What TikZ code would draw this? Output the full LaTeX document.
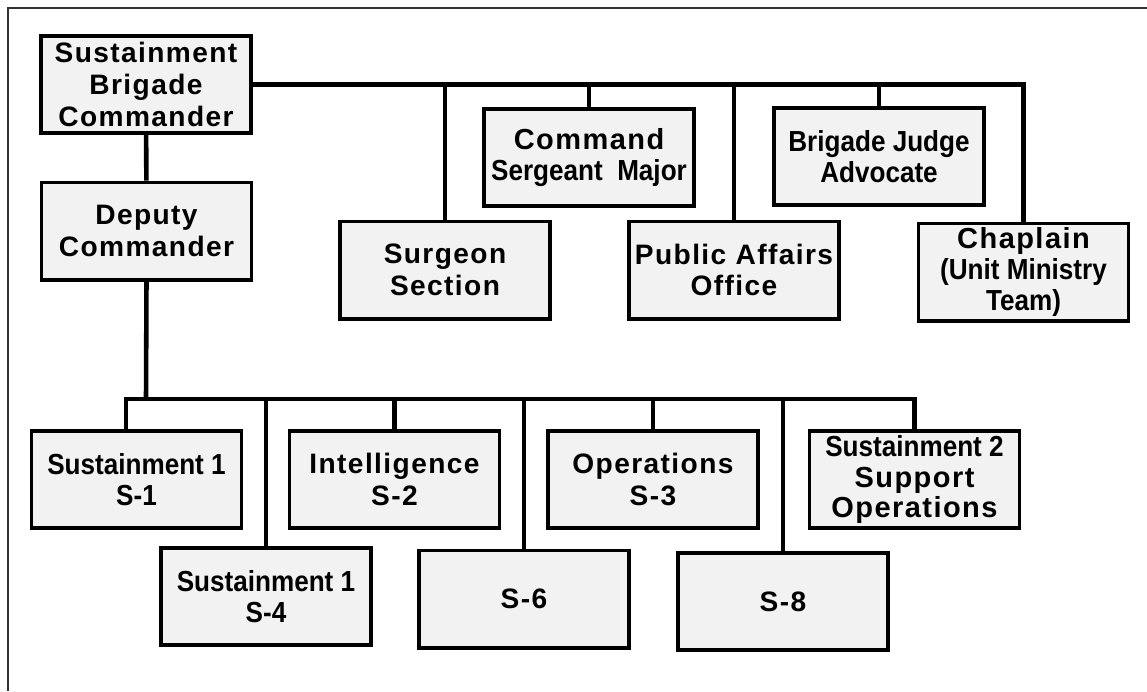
\documentclass[tikz,border=0pt]{standalone}
\usepackage{fontspec}
\setmainfont{Liberation Sans}
\newfontfamily\widefont[LetterSpace=5]{Liberation Sans}
\newfontfamily\narrowfont[FakeStretch=0.9]{Liberation Sans}
\usetikzlibrary{positioning}

\tikzset{
	unit/.style={draw, line width=2pt, fill=black!5, rectangle, minimum width=4.2cm, minimum height=1.95cm, align=center, inner sep=0pt},
	widetxt/.style={font=\widefont\bfseries\fontsize{16}{18}\selectfont},
	narrowtxt/.style={font=\narrowfont\bfseries\fontsize{16.5}{17.4}\selectfont},
	link/.style={line width=2.6pt},
	frame/.style={line width=1.1pt, draw=black!80}
}

\begin{document}
\begin{tikzpicture}[x=0.02cm, y=-0.02cm]
	\useasboundingbox (0,0) rectangle (1147,691);
	\draw[frame] (8,691) -- (8,8) -- (1147,8);

	\node (sbc) at (146,84.5) [unit, widetxt] {Sustainment\\Brigade\\Commander};
	\node (dep) at (146.5,231) [unit, widetxt] {Deputy\\Commander};
	\node (surg) at (445,270) [unit, widetxt] {Surgeon\\Section};
	\node (csm) at (589,157.5) [unit, narrowtxt] {{\widefont Command}\\Sergeant\ \ Major};
	\node (pao) at (734,270) [unit, widetxt] {Public Affairs\\Office};
	\node (bja) at (879,156.5) [unit, narrowtxt] {Brigade Judge\\Advocate};
	\node (chap) at (1023.5,272) [unit, narrowtxt] {{\widefont Chaplain}\\(Unit Ministry\\Team)};

	\draw[link] (sbc) -- (dep);
	\draw[link] (sbc.east) -| (chap.north);
	\draw[link] (surg.north) -- (surg.north |- sbc.east);
	\draw[link] (csm.north) -- (csm.north |- sbc.east);
	\draw[link] (pao.north) -- (pao.north |- sbc.east);
	\draw[link] (bja.north) -- (bja.north |- sbc.east);

	\node (s1) at (136.5,479.5) [unit, narrowtxt] {Sustainment 1\\S-1};
	\node (s2) at (394.5,479.5) [unit, widetxt] {Intelligence\\S-2};
	\node (s3) at (653,479.5) [unit, widetxt] {Operations\\S-3};
	\node (sus2) at (914.5,479.5) [unit, narrowtxt] {Sustainment 2\\{\widefont Support}\\{\widefont Operations}};
	\node (s4) at (266,596.5) [unit, narrowtxt] {Sustainment 1\\S-4};
	\node (s6) at (524,599) [unit, widetxt] {S-6};
	\node (s8) at (783,601.5) [unit, widetxt] {S-8};

	\coordinate (hub) at (146,399);
	\draw[link] (dep.south) -- (hub);
	\draw[link] ([xshift=-0.21cm]s1.north) |- (hub) -| (sus2.north);
	\draw[link] (s4.north) -- (s4.north |- hub);
	\draw[link] (s2.north) -- (s2.north |- hub);
	\draw[link] (s6.north) -- (s6.north |- hub);
	\draw[link] (s3.north) -- (s3.north |- hub);
	\draw[link] (s8.north) -- (s8.north |- hub);
\end{tikzpicture}
\end{document}
